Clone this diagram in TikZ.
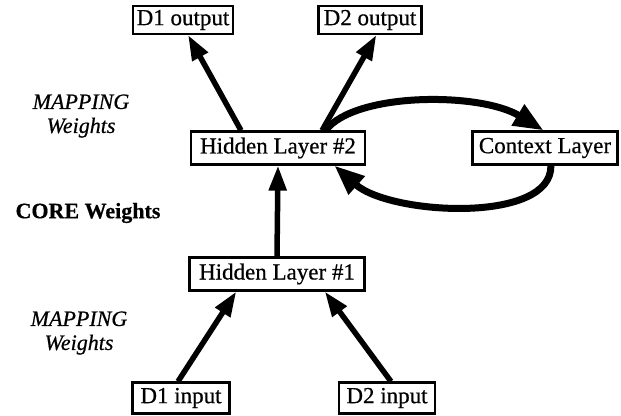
\documentclass[tikz,border=0pt]{standalone}
\usepackage{fontspec}
\setmainfont{Liberation Serif}[FakeBold=0.6]
\usetikzlibrary{arrows.meta,calc}

\tikzset{
  layerbox/.style={draw, line width=2.2pt, inner sep=0pt, align=center,
    font=\fontsize{23}{26}\selectfont},
  link/.style={line width=5.5pt, -{Triangle[length=25pt,width=17pt]}},
  loop/.style={line width=7pt, -{Triangle[length=30pt,width=23pt]}},
  note/.style={font=\fontsize{22}{25}\selectfont, align=center, inner sep=0pt}
}

\begin{document}
\begin{tikzpicture}[x=1pt, y=-1pt]
  \useasboundingbox (0,0) rectangle (621,415);

  % layers
  \node[layerbox, minimum width=100pt, minimum height=28pt] (d1out) at (183,20) {D1 output};
  \node[layerbox, minimum width=103pt, minimum height=28pt] (d2out) at (370,20) {D2 output};
  \node[layerbox, minimum width=174pt, minimum height=33pt] (hid2) at (278,148) {Hidden Layer \#2};
  \node[layerbox, minimum width=145pt, minimum height=33pt] (ctx) at (545,148) {Context Layer};
  \node[layerbox, minimum width=175pt, minimum height=33pt] (hid1) at (277,274) {Hidden Layer \#1};
  \node[layerbox, minimum width=97pt, minimum height=31pt] (d1in) at (181,398) {D1 input};
  \node[layerbox, minimum width=96pt, minimum height=31pt] (d2in) at (387,398) {D2 input};

  % weight labels
  \node[note] (map1) at (81,116) {\itshape MAPPING\\[-1pt]\itshape Weights};
  \node[note] (core) at (88,213) {\bfseries CORE Weights};
  \node[note] (map2) at (79,333) {\itshape MAPPING\\[-1pt]\itshape Weights};

  % feed-forward connections
  \draw[link] ($(d1in.north west)!0.47!(d1in.north east)$) -- ($(hid1.south west)!0.27!(hid1.south east)$);
  \draw[link] ($(d2in.north west)!0.54!(d2in.north east)$) -- ($(hid1.south west)!0.77!(hid1.south east)$);
  \draw[link] (hid1.north) -- (hid2.south);
  \draw[link] ($(hid2.north west)!0.29!(hid2.north east)$) -- ($(d1out.south west)!0.55!(d1out.south east)$);
  \draw[link] ($(hid2.north west)!0.75!(hid2.north east)$) -- ($(d2out.south west)!0.56!(d2out.south east)$);

  % recurrent loop through the context layer
  \coordinate (loopout) at ($(hid2.north west)!0.77!(hid2.north east)$);
  \coordinate (loopin) at ($(hid2.south west)!0.82!(hid2.south east)$);
  \draw[loop] (loopout) .. controls (355,92) and (480,92) .. ($(ctx.north west)!0.49!(ctx.north east)$);
  \draw[loop] ($(ctx.south west)!0.54!(ctx.south east)$) .. controls (552,224) and (390,215) .. (loopin);
\end{tikzpicture}
\end{document}
